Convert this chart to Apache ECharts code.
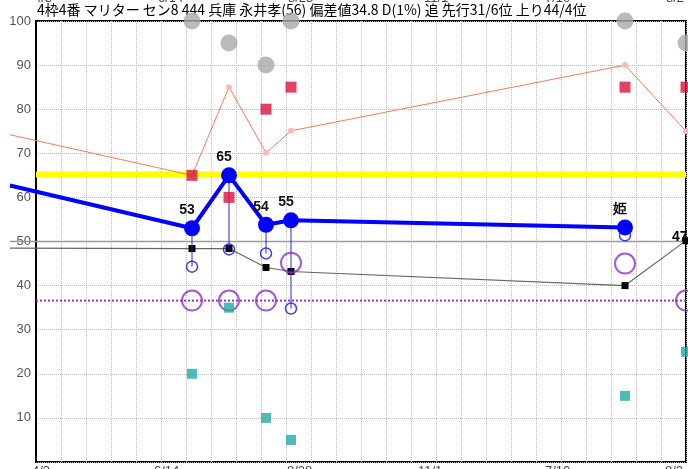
<!DOCTYPE html>
<html><head><meta charset="utf-8">
<script src="https://cdn.jsdelivr.net/npm/echarts@6/dist/echarts.min.js"></script>
<style>html,body{margin:0;padding:0;background:#fff}#c{width:688px;height:469px}</style>
</head><body><div id="c"></div>
<script>
// ---- data ----
const titleText = '4枠4番 マリター セン8 444 兵庫 永井孝(56) 偏差値34.8 D(1%) 追 先行31/6位 上り44/4位';
const raceX = [6.24, 7.72, 9.2, 10.2, 23.56, 26];
const startX = -1.04;
const mainStart = 62.7;
const mainVals = [53, 65, 53.8, 54.8, 53.2];
const mainLabels = ['53', '65', '54', '55', '姫'];
const openBlueVals = [44.3, 48.2, 47.3, 34.8, 51.4];
const grayStart = 48.5;
const grayVals = [48.4, 48.4, 44.1, 43.2, 40.0, 50.2];
const orangeStart = 74.2;
const orangeVals = [65, 85, 70.1, 75.1, 90, 75];
const purpleVals = [36.6, 36.6, 36.6, 45.2, 45.0, 36.6];
const redVals = [65, 60, 80, 85, 85, 85];
const tealVals = [20, 35, 10, 5, 15, 25];
const grayCircleVals = [100, 95, 90, 100, 100, 95];
const yellowLevel = 65.2;
const purpleLevel = 36.6;
const refLevel = 50;
const lastLabel = '47';
const topDateLabels = [['4/3', 34], ['6/14', 158], ['8/28', 288], ['11/1', 424], ['7/10', 545], ['8/2', 666]];
const bottomDateLabels = [['4/3', 32], ['6/14', 154], ['8/28', 287], ['11/1', 418], ['7/10', 545], ['8/2', 665]];

// ---- chart ----
const chart = echarts.init(document.getElementById('c'), null, {renderer: 'canvas'});
const pts = (vals) => vals.map((v, i) => [raceX[i], v]);
const lineData = (start, vals, extra) => [{value: [startX, start], symbol: 'none', label: {show: false}}]
  .concat(vals.map((v, i) => Object.assign({value: [raceX[i], v]}, extra ? extra(i) : {})));

const option = {
  animation: false,
  backgroundColor: '#fff',
  grid: [
    {left: 36, right: 2, top: 21, bottom: 7, show: true, borderColor: '#000', borderWidth: 2, backgroundColor: 'transparent'},
    {left: 10, right: 2, top: 21, bottom: 7, show: false}
  ],
  xAxis: [
    {gridIndex: 0, type: 'value', min: 0, max: 26, interval: 1,
      axisLine: {show: false}, axisTick: {show: false}, axisLabel: {show: false},
      splitLine: {show: true, lineStyle: {color: '#bbbbbb', type: 'dotted', width: 1}}},
    {gridIndex: 1, type: 'value', min: startX, max: 26, show: false, splitLine: {show: false}}
  ],
  yAxis: [
    {gridIndex: 0, type: 'value', min: 0, max: 100, interval: 10,
      axisLine: {show: true, lineStyle: {color: '#000', width: 2}}, axisTick: {show: false},
      axisLabel: {margin: 5, color: '#555', fontSize: 13, fontFamily: 'Liberation Sans, Arial',
        formatter: v => v === 0 ? '' : String(v)},
      splitLine: {show: true, lineStyle: {color: '#bbbbbb', type: 'dotted', width: 1}}},
    {gridIndex: 1, type: 'value', min: 0, max: 100, show: false, splitLine: {show: false}}
  ],
  graphic: [
    {type: 'text', left: 37, top: 3, style: {text: titleText, fill: '#000', font: '14px "Noto Sans CJK JP"'}},
    ...topDateLabels.map(([t, x]) => ({type: 'text', left: x, top: -8, style: {text: t, fill: '#444', font: '13px "Liberation Sans"'}})),
    ...bottomDateLabels.map(([t, x]) => ({type: 'text', left: x, top: 465, style: {text: t, fill: '#444', font: '13px "Liberation Sans"'}})),
    {type: 'text', left: 672, top: 230, z: 100, style: {text: lastLabel, fill: '#000', font: 'bold 14px "Liberation Sans"'}}
  ],
  series: [
    // reference levels
    {type: 'line', xAxisIndex: 1, yAxisIndex: 1, data: [[startX, refLevel], [26, refLevel]], symbol: 'none', silent: true,
      lineStyle: {color: '#999', width: 1.5}, z: 1},
    {type: 'line', data: [[0, yellowLevel], [26, yellowLevel]], symbol: 'none', silent: true,
      lineStyle: {color: '#ffff00', width: 6}, z: 2},
    {type: 'line', data: [[0, purpleLevel], [26, purpleLevel]], symbol: 'none', silent: true,
      lineStyle: {color: '#9933cc', width: 2, type: [2, 2]}, z: 2},
    // orange line
    {type: 'line', xAxisIndex: 1, yAxisIndex: 1, data: lineData(orangeStart, orangeVals), clip: false,
      symbol: 'circle', symbolSize: 6, itemStyle: {color: '#ffb8b8'},
      lineStyle: {color: '#ff7a55', width: 1}, z: 3},
    // gray line
    {type: 'line', xAxisIndex: 1, yAxisIndex: 1, data: lineData(grayStart, grayVals), clip: false,
      symbol: 'rect', symbolSize: 7, itemStyle: {color: '#000'},
      lineStyle: {color: '#666', width: 1.2}, z: 4},
    // drop lines
    {type: 'custom', clip: false, z: 5,
      data: mainVals.map((v, i) => [raceX[i], v, openBlueVals[i]]),
      encode: {x: 0, y: [1, 2]},
      renderItem: (params, api) => {
        const a = api.coord([api.value(0), api.value(1)]);
        const b = api.coord([api.value(0), api.value(2)]);
        return {type: 'line', shape: {x1: a[0], y1: a[1], x2: b[0], y2: b[1]}, style: {stroke: '#2a2ad0', lineWidth: 1}};
      }},
    // open blue circles
    {type: 'scatter', data: pts(openBlueVals), symbol: 'circle', symbolSize: 11, clip: false,
      itemStyle: {color: 'rgba(255,255,255,0)', borderColor: '#1010e0', borderWidth: 1.5}, z: 6},
    // purple circles
    {type: 'scatter', data: pts(purpleVals), symbol: 'circle', symbolSize: 20, clip: false,
      itemStyle: {color: 'rgba(255,255,255,0)', borderColor: '#9030c8', borderWidth: 2}, z: 6},
    // red squares
    {type: 'scatter', data: pts(redVals), symbol: 'rect', symbolSize: 11, clip: false,
      itemStyle: {color: '#dc143c'}, z: 7},
    // teal squares
    {type: 'scatter', data: pts(tealVals), symbol: 'rect', symbolSize: 10, clip: false,
      itemStyle: {color: '#22aaa2'}, z: 7},
    // gray circles
    {type: 'scatter', data: pts(grayCircleVals), symbol: 'circle', symbolSize: 17, clip: false,
      itemStyle: {color: '#a9a9a9'}, z: 7},
    // main blue line
    {type: 'line', xAxisIndex: 1, yAxisIndex: 1, clip: false, z: 8,
      data: lineData(mainStart, mainVals, i => ({label: {formatter: mainLabels[i]}})),
      symbol: 'circle', symbolSize: 16, itemStyle: {color: '#0000ff'},
      lineStyle: {color: '#0000ff', width: 4},
      label: {show: true, position: 'top', distance: 3, offset: [-5, 0], color: '#111',
        fontSize: 14, fontWeight: 'bold', fontFamily: 'Liberation Sans, Arial'}}
  ]
};
chart.setOption(option);
</script>
</body></html>
